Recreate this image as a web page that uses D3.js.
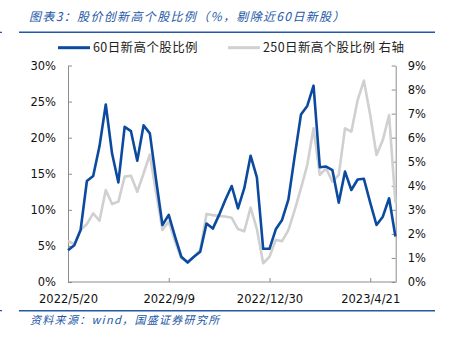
<!DOCTYPE html>
<html><head><meta charset="utf-8">
<script src="https://cdn.jsdelivr.net/npm/d3@7"></script>
<style>
html,body{margin:0;padding:0;background:#fff;}
svg{display:block;}
</style></head>
<body>
<svg id="c" width="451" height="338"></svg>
<script>
const categories = ["2022/5/20","2022/5/27","2022/6/3","2022/6/10","2022/6/17","2022/6/24","2022/7/1","2022/7/8","2022/7/15","2022/7/22","2022/7/29","2022/8/5","2022/8/12","2022/8/19","2022/8/26","2022/9/2","2022/9/9","2022/9/16","2022/9/23","2022/9/30","2022/10/7","2022/10/14","2022/10/21","2022/10/28","2022/11/4","2022/11/11","2022/11/18","2022/11/25","2022/12/2","2022/12/9","2022/12/16","2022/12/23","2022/12/30","2023/1/6","2023/1/13","2023/1/20","2023/1/27","2023/2/3","2023/2/10","2023/2/17","2023/2/24","2023/3/3","2023/3/10","2023/3/17","2023/3/24","2023/3/31","2023/4/7","2023/4/14","2023/4/21","2023/4/28","2023/5/5","2023/5/12","2023/5/19"];
const high60 = [4.4,5.1,7.2,14.0,14.7,18.8,24.6,17.8,13.8,21.5,20.9,16.8,21.7,20.6,14.1,7.9,9.3,6.3,3.5,2.7,3.5,4.2,8.1,7.4,9.3,11.4,13.3,10.2,13.0,17.5,14.5,4.6,4.6,7.3,8.6,11.4,17.4,23.2,24.4,27.2,15.9,16.0,15.5,11.0,15.3,12.75,14.2,14.3,11.0,7.9,9.05,11.6,6.3];
const high250 = [1.70,1.58,2.16,2.41,2.85,2.55,3.82,3.24,3.34,4.38,4.42,3.75,4.51,5.30,3.7,2.16,2.51,1.68,0.98,0.85,1.05,1.33,2.83,2.78,2.74,2.72,2.67,2.2,2.11,3.09,2.2,0.78,1.05,1.75,1.70,2.16,2.99,3.89,4.86,6.39,4.45,4.72,4.17,4.45,6.39,6.25,7.56,8.37,6.94,5.28,5.90,6.94,3.3];
const xTickLabels = ["2022/5/20","2022/9/9","2022/12/30","2023/4/21"];
const leftTicks = [0,5,10,15,20,25,30];
const rightTicks = [0,1,2,3,4,5,6,7,8,9];
const titleText = "图表3：股价创新高个股比例（%，剔除近60日新股）";
const sourceText = "资料来源：wind，国盛证券研究所";
const seriesNames = ["60日新高个股比例","250日新高个股比例 右轴"];

const svg = d3.select("#c");
const L = 68, R = 395.7, T = 65.5, B = 282;
const blue = "#0b4a9e", gray = "#d0d0d0", axisC = "#8c8c8c", hdr = "#2457a8";
const font = "'DejaVu Sans', Verdana, sans-serif";

const x = d3.scalePoint().domain(categories).range([L, 395.4]);
const yL = d3.scaleLinear().domain([0,30]).range([B, T]);
const yR = d3.scaleLinear().domain([0,9]).range([B, T]);

// header
svg.append("text").attr("x", 29).attr("y", 21).attr("fill", hdr)
  .attr("font-family", "'Noto Sans CJK SC', sans-serif").attr("font-size", 12)
  .attr("letter-spacing", 1.35)
  .attr("font-style", "italic").text(titleText);
svg.append("line").attr("x1", 19).attr("x2", 435).attr("y1", 32.3).attr("y2", 32.3)
  .attr("stroke", hdr).attr("stroke-width", 1.5);
svg.append("line").attr("x1", 0).attr("x2", 2).attr("y1", 32.3).attr("y2", 32.3)
  .attr("stroke", hdr).attr("stroke-width", 1.2);

// legend
const lg = [{x:58, c:blue, t:seriesNames[0]},{x:228, c:gray, t:seriesNames[1]}];
lg.forEach(d=>{
  svg.append("line").attr("x1", d.x).attr("x2", d.x+32).attr("y1", 47.7).attr("y2", 47.7)
    .attr("stroke", d.c).attr("stroke-width", 3);
  svg.append("text").attr("x", d.x+35).attr("y", 52.3).attr("fill", "#222")
    .attr("font-family", "'Noto Sans CJK SC', sans-serif").attr("font-size", 12.5)
    .attr("letter-spacing", 0.4).text(d.t);
});

// axes
const gL = svg.append("g").attr("transform", `translate(${L},0)`)
  .call(d3.axisLeft(yL).tickValues(leftTicks).tickFormat(d=>d+"%").tickSizeInner(-4).tickSizeOuter(0).tickPadding(12));
const gR = svg.append("g").attr("transform", `translate(${R},0)`)
  .call(d3.axisRight(yR).tickValues(rightTicks).tickFormat(d=>d+"%").tickSizeInner(-4).tickSizeOuter(0).tickPadding(12));
const gX = svg.append("g").attr("transform", `translate(0,${B})`)
  .call(d3.axisBottom(x).tickValues(xTickLabels).tickSizeInner(-4).tickSizeOuter(0).tickPadding(13));
[gL,gR,gX].forEach(g=>{
  g.selectAll("path").attr("stroke", axisC).attr("stroke-width", 1);
  g.selectAll("line").attr("stroke", axisC).attr("stroke-width", 1);
  g.selectAll("text").attr("fill", "#111").attr("font-family", font).attr("font-size", 11.5);
});
gX.select(".domain").attr("d", `M${L},0H${R}`);

// lines
const lineL = d3.line().x((d,i)=>x(categories[i])).y(d=>yL(d));
const lineR = d3.line().x((d,i)=>x(categories[i])).y(d=>yR(d));
svg.append("path").datum(high250).attr("d", lineR).attr("fill","none")
  .attr("stroke", gray).attr("stroke-width", 2.6).attr("stroke-linejoin","round");
svg.append("path").datum(high60).attr("d", lineL).attr("fill","none")
  .attr("stroke", blue).attr("stroke-width", 2.6).attr("stroke-linejoin","round");

// footer
svg.append("line").attr("x1", 19).attr("x2", 435).attr("y1", 310.7).attr("y2", 310.7)
  .attr("stroke", hdr).attr("stroke-width", 1.5);
svg.append("line").attr("x1", 0).attr("x2", 2).attr("y1", 310.7).attr("y2", 310.7)
  .attr("stroke", hdr).attr("stroke-width", 1.2);
svg.append("text").attr("x", 30).attr("y", 323.5).attr("fill", hdr)
  .attr("font-family", "'Noto Sans CJK SC', sans-serif").attr("font-size", 11)
  .attr("letter-spacing", 1.3)
  .attr("font-style", "italic").text(sourceText);
</script>
</body></html>
